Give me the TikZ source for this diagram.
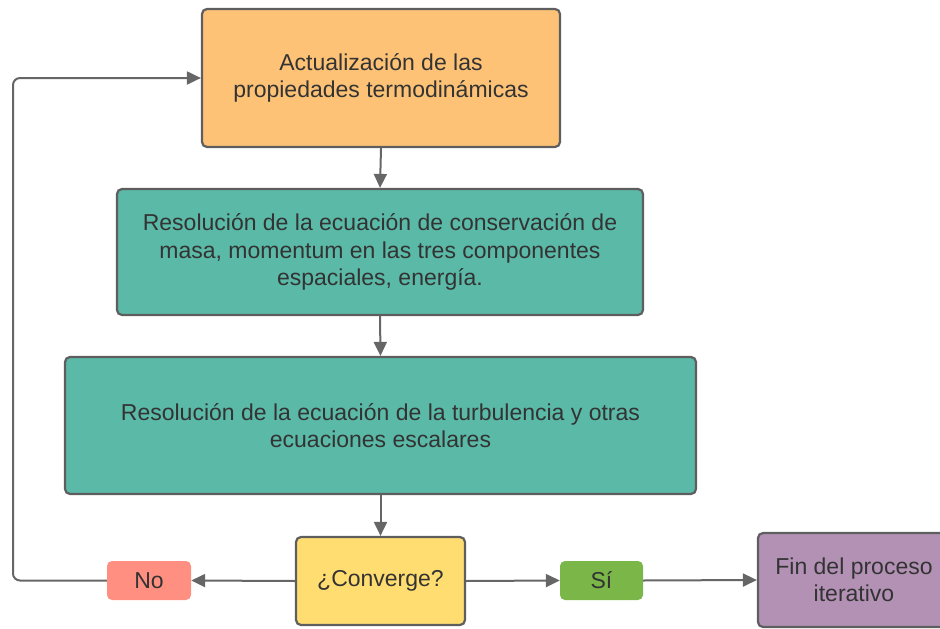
\documentclass[tikz,border=0pt]{standalone}
\usepackage{fontspec}
\setmainfont{Liberation Sans}
\usetikzlibrary{arrows.meta}
\definecolor{cOrange}{HTML}{FDC276}
\definecolor{cTeal}{HTML}{5AB9A7}
\definecolor{cYellow}{HTML}{FFDD71}
\definecolor{cGreen}{HTML}{7AB648}
\definecolor{cRed}{HTML}{FF8F80}
\definecolor{cPurple}{HTML}{B391B5}
\definecolor{cBorder}{HTML}{5E5E5E}
\definecolor{cLine}{HTML}{666666}
\definecolor{cText}{HTML}{333333}
\tikzset{
  box/.style={draw=cBorder, line width=2.2pt, rounded corners=5pt, text=cText,
    align=center, inner sep=0pt, font=\fontsize{23}{27.5}\selectfont},
  tag/.style={rounded corners=5pt, text=cText, align=center, inner sep=0pt,
    font=\fontsize{23}{27.5}\selectfont},
  conn/.style={draw=cLine, line width=2pt, -{Triangle[length=14pt,width=13pt]}},
}
\begin{document}
\begin{tikzpicture}[x=1pt,y=-1pt]
\useasboundingbox (0,0) rectangle (940,629);
\clip (0,0) rectangle (940,629);
\node[box, fill=cOrange, minimum width=358pt, minimum height=138pt] (upd) at (381,78)
  {Actualización de las\\propiedades termodinámicas};
\node[box, fill=cTeal, minimum width=526pt, minimum height=126pt] (mom) at (380,252)
  {Resolución de la ecuación de conservación de\\masa, momentum en las tres componentes\\espaciales, energía.};
\node[box, fill=cTeal, minimum width=631pt, minimum height=137pt] (turb) at (380.5,425.5)
  {Resolución de la ecuación de la turbulencia y otras\\ecuaciones escalares};
\node[box, fill=cYellow, minimum width=169pt, minimum height=88pt] (conv) at (380.5,581)
  {¿Converge?};
\node[tag, fill=cRed, minimum width=84pt, minimum height=39pt] (no) at (149,580.5) {No};
\node[tag, fill=cGreen, minimum width=83pt, minimum height=39pt] (si) at (601.5,580.5) {Sí};
\node[box, fill=cPurple, minimum width=192pt, minimum height=94pt] (fin) at (854,580)
  {Fin del proceso\\iterativo};
\coordinate (lp) at (13,78);
\draw[conn] (upd.south) -- (mom.north);
\draw[conn] (mom.south) -- (turb.north);
\draw[conn] (turb.south) -- (conv.north);
\draw[conn] (conv.west) -- (no.east);
\draw[conn] (conv.east) -- (si.west);
\draw[conn] (si.east) -- (fin.west);
\draw[conn, rounded corners=7pt] (no.west) -| (lp) -- (upd.west);
\end{tikzpicture}
\end{document}
